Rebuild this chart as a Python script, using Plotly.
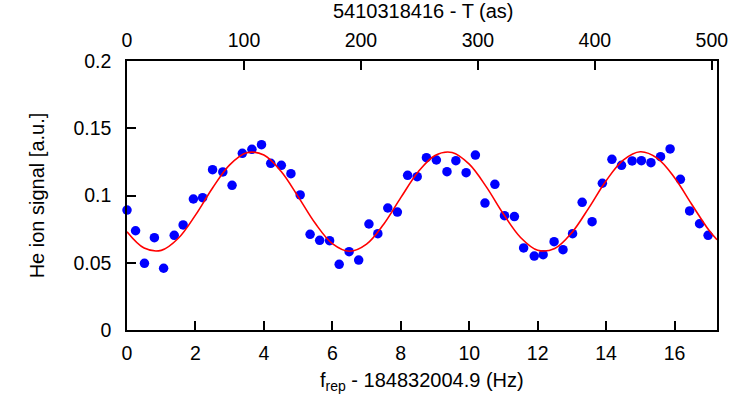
import plotly.graph_objects as go

# measured data points (f_rep offset in Hz, He ion signal in a.u.)
x_data = [0.0, 0.25, 0.51, 0.80, 1.07, 1.38, 1.64, 1.94, 2.21, 2.50, 2.80, 3.07, 3.37, 3.65,
          3.93, 4.20, 4.51, 4.79, 5.06, 5.35, 5.63, 5.92, 6.20, 6.49, 6.77, 7.07, 7.33, 7.62,
          7.90, 8.20, 8.48, 8.75, 9.04, 9.35, 9.61, 9.91, 10.18, 10.46, 10.75, 11.03, 11.32,
          11.59, 11.90, 12.16, 12.48, 12.74, 13.02, 13.30, 13.59, 13.89, 14.17, 14.45, 14.76,
          15.03, 15.31, 15.59, 15.87, 16.17, 16.44, 16.73, 16.98, 17.25]
y_data = [0.0892, 0.0738, 0.0496, 0.0686, 0.0459, 0.0704, 0.0781, 0.0974, 0.0984, 0.1192,
          0.1175, 0.1076, 0.1314, 0.1343, 0.1378, 0.1239, 0.1224, 0.1162, 0.1004, 0.0711,
          0.0667, 0.0664, 0.0488, 0.0582, 0.0520, 0.0788, 0.0716, 0.0907, 0.0877, 0.1150,
          0.1140, 0.1281, 0.1264, 0.1177, 0.1259, 0.1170, 0.1301, 0.0944, 0.1083, 0.0850,
          0.0843, 0.0610, 0.0550, 0.0560, 0.0657, 0.0597, 0.0716, 0.0949, 0.0805, 0.1091,
          0.1269, 0.1224, 0.1257, 0.1259, 0.1244, 0.1289, 0.1346, 0.1120, 0.0885, 0.0790,
          0.0704, 0.0686]

# fit curve
x_fit = [0.0, 0.5, 1.0, 1.5, 2.0, 2.5, 3.0, 3.5, 4.0, 4.5, 5.0, 5.5, 6.0, 6.5, 7.0, 7.5,
         8.0, 8.5, 9.0, 9.5, 10.0, 10.5, 11.0, 11.5, 12.0, 12.5, 13.0, 13.5, 14.0, 14.5,
         15.0, 15.5, 16.0, 16.5, 17.0, 17.24]
y_fit = [0.0730, 0.0609, 0.0592, 0.0682, 0.0854, 0.1056, 0.1228, 0.1318, 0.1301, 0.1180,
         0.0992, 0.0793, 0.0642, 0.0585, 0.0638, 0.0786, 0.0984, 0.1173, 0.1298, 0.1320,
         0.1233, 0.1064, 0.0862, 0.0688, 0.0593, 0.0606, 0.0724, 0.0910, 0.1110, 0.1263,
         0.1325, 0.1276, 0.1132, 0.0935, 0.0743, 0.0671]

x_ticks = [0, 2, 4, 6, 8, 10, 12, 14, 16]
x2_ticks = [0, 100, 200, 300, 400, 500]
y_ticks = [0, 0.05, 0.1, 0.15, 0.2]
y_tick_text = ["0", "0.05", "0.1", "0.15", "0.2"]

x_title = "f<sub>rep</sub> - 184832004.9 (Hz)"
x2_title = "5410318416 - T (as)"
y_title = "He ion signal [a.u.]"

FONT = "Liberation Sans, Arial, sans-serif"
FS_TICK = 19.5
FS_TITLE = 20

fig = go.Figure()
fig.add_trace(go.Scatter(x=x_data, y=y_data, mode="markers",
                         marker=dict(color="#0000ff", size=9.5),
                         cliponaxis=False, showlegend=False))
fig.add_trace(go.Scatter(x=x_fit, y=y_fit, mode="lines", line_shape="spline",
                         line=dict(color="#ff0000", width=1.6), showlegend=False))
# invisible trace for top axis
fig.add_trace(go.Scatter(x=[0], y=[None], xaxis="x2", mode="markers",
                         marker=dict(opacity=0), showlegend=False, hoverinfo="skip"))

axis_common = dict(showline=True, linecolor="black", linewidth=1.5, ticks="inside",
                   ticklen=9, tickwidth=1.5, tickcolor="black", showgrid=False,
                   zeroline=False, automargin=False,
                   tickfont=dict(size=FS_TICK, color="black", family=FONT))

fig.update_layout(
    width=747, height=418,
    margin=dict(l=127, r=30, t=61, b=88),
    paper_bgcolor="white", plot_bgcolor="white",
    font=dict(family=FONT, size=FS_TITLE, color="black"),
    xaxis=dict(range=[0, 17.24], tickvals=x_ticks, mirror=True, ticklabelstandoff=5,
               **axis_common),
    xaxis2=dict(range=[0, 504.4], tickvals=x2_ticks, overlaying="x", side="top",
                ticklabelstandoff=4, **axis_common),
    yaxis=dict(range=[0, 0.2], tickvals=y_ticks, ticktext=y_tick_text, mirror=True,
               ticklabelstandoff=10,
               title=dict(text=y_title, standoff=23, font=dict(size=FS_TITLE)),
               **axis_common),
    annotations=[
        dict(text=x_title, xref="paper", yref="paper", x=0.5, y=-0.19,
             xanchor="center", yanchor="middle", showarrow=False,
             font=dict(size=FS_TITLE, family=FONT, color="black")),
        dict(text=x2_title, xref="paper", yref="paper", x=0.503, y=1.186,
             xanchor="center", yanchor="middle", showarrow=False,
             font=dict(size=FS_TITLE, family=FONT, color="black")),
    ],
)

fig.write_html("out.html", config={"displayModeBar": False},
               post_script="document.body.style.margin='0';document.body.style.overflow='hidden';")
